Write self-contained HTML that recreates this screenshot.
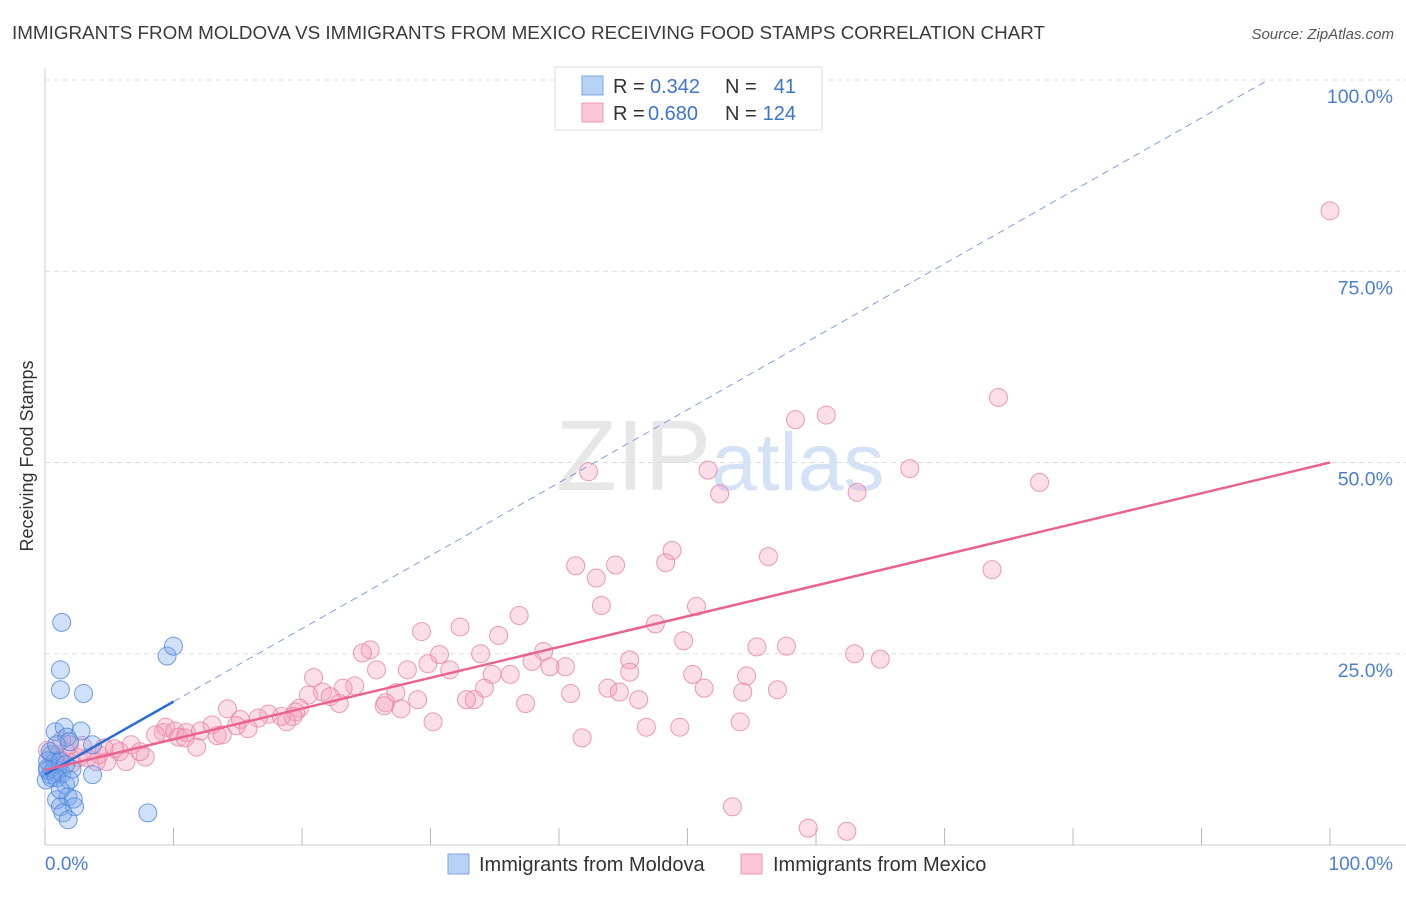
<!DOCTYPE html>
<html><head><meta charset="utf-8"><style>
body{margin:0;background:#fff;font-family:"Liberation Sans",sans-serif;}
svg text{font-family:"Liberation Sans",sans-serif;}
</style></head><body>
<svg id="chart" width="1406" height="892" xmlns="http://www.w3.org/2000/svg">
<text x="12" y="39" font-size="18" fill="#3a3a3a" textLength="1033" lengthAdjust="spacingAndGlyphs">IMMIGRANTS FROM MOLDOVA VS IMMIGRANTS FROM MEXICO RECEIVING FOOD STAMPS CORRELATION CHART</text>
<text x="1394" y="39" font-size="15" fill="#555" text-anchor="end" font-style="italic">Source: ZipAtlas.com</text>
<text x="720" y="490" font-size="100" fill="#d8d8d8" text-anchor="middle" font-family="Liberation Serif" opacity="0.6">ZIP<tspan fill="#b8cff0" font-family="Liberation Sans" font-size="82">atlas</tspan></text>
<g id="grid"></g>
<g id="axes"></g>
<g id="pts"></g>
<g id="lines"></g>
<text transform="translate(33,456) rotate(-90)" font-size="18" fill="#333" text-anchor="middle">Receiving Food Stamps</text>
<text x="45" y="870" font-size="19" fill="#4a7fd4">0.0%</text>
<text x="1393" y="870" font-size="19" fill="#4a7fd4" text-anchor="end">100.0%</text>
<g>
<rect x="555" y="67" width="267" height="63" fill="#fff" stroke="#ddd"/>
<rect x="582" y="76" width="21" height="19" fill="#b8d2f5" stroke="#7aa7e6"/>
<rect x="582" y="103" width="21" height="19" fill="#f9c6d6" stroke="#eb9ab4"/>
<text x="613" y="93" font-size="20" fill="#333">R = </text><text x="650" y="93" font-size="20" fill="#3d74d0">0.342</text>
<text x="725" y="93" font-size="20" fill="#333">N = </text><text x="796" y="93" font-size="20" fill="#3d74d0" text-anchor="end">41</text>
<text x="613" y="120" font-size="20" fill="#333">R = </text><text x="648" y="120" font-size="20" fill="#3d74d0">0.680</text>
<text x="725" y="120" font-size="20" fill="#333">N = </text><text x="796" y="120" font-size="20" fill="#3d74d0" text-anchor="end">124</text>
</g>
<g>
<rect x="448" y="854" width="21" height="20" fill="#b8d2f5" stroke="#7aa7e6"/>
<text x="479" y="871" font-size="20" fill="#333">Immigrants from Moldova</text>
<rect x="741" y="854" width="21" height="20" fill="#f9c6d6" stroke="#eb9ab4"/>
<text x="773" y="871" font-size="20" fill="#333">Immigrants from Mexico</text>
</g>
</svg>
<script>
const yTicks=[25,50,75,100];
const yTickLabels=["25.0%","50.0%","75.0%","100.0%"];
const xTicks=[0,10,20,30,40,50,60,70,80,90,100];
const moldovaX=[1.3,1.2,1.2,3.0,9.5,10.0,0.8,1.5,2.8,1.7,1.9,3.7,0.5,0.8,0.2,1.0,0.4,0.6,1.3,2.1,3.7,0.1,0.5,1.6,0.9,1.8,2.2,1.2,2.3,1.4,1.8,8.0,0.2,0.4,0.9,1.2,1.6,0.2,0.9,1.9,1.2];
const moldovaY=[29.1,22.9,20.3,19.8,24.7,26.0,14.8,15.4,14.9,14.1,13.5,13.1,11.8,10.9,10.1,9.7,9.2,9.6,9.3,9.9,9.2,8.5,8.8,7.9,5.9,6.3,6.0,5.0,5.0,4.2,3.3,4.2,11.0,12.2,13.1,10.9,10.5,9.8,8.8,8.5,7.2];
const mexicoX=[100.0,74.2,58.4,60.8,42.3,51.6,67.3,77.4,52.5,63.2,48.8,48.3,56.3,41.3,44.4,42.9,73.7,43.3,50.7,36.9,47.5,32.3,29.3,35.3,49.7,25.3,24.7,30.7,38.8,55.4,57.7,63.0,65.0,45.5,33.9,37.9,40.5,39.3,45.5,28.2,25.8,20.9,31.5,34.8,36.2,50.4,54.6,29.8,43.8,51.3,54.3,57.0,44.7,40.9,34.2,24.1,23.2,21.6,22.2,27.3,33.4,32.8,29.0,20.5,22.9,26.5,27.7,26.4,37.4,46.2,19.8,14.2,19.5,17.4,16.6,18.4,19.3,15.2,14.9,18.8,13.0,15.8,9.4,9.2,10.1,11.0,12.1,8.6,13.4,13.8,10.4,10.9,30.2,46.8,49.4,54.1,41.8,11.8,6.7,5.4,5.8,7.8,4.2,3.3,4.0,4.8,6.3,2.6,2.1,1.2,0.8,1.6,1.9,0.5,0.2,2.9,53.5,59.4,62.4,7.4,4.6,1.3];
const mexicoY=[82.9,58.5,55.6,56.2,48.8,49.0,49.2,47.4,45.9,46.1,38.5,36.9,37.7,36.5,36.6,34.9,36.0,31.3,31.2,30.0,28.9,28.5,27.9,27.4,26.7,25.5,25.1,24.9,25.3,25.9,26.0,25.0,24.3,24.2,25.0,24.0,23.3,23.3,22.6,22.9,22.9,21.9,22.9,22.3,22.3,22.3,22.1,23.7,20.5,20.5,20.0,20.3,20.0,19.8,20.5,20.8,20.5,20.0,19.4,19.9,19.0,19.0,19.0,19.6,18.5,18.6,17.8,18.2,18.5,19.0,17.9,17.8,17.4,17.1,16.6,16.8,16.8,16.4,15.6,16.1,15.7,15.2,15.4,14.7,14.9,14.7,14.9,14.4,14.3,14.4,14.1,14.0,16.1,15.4,15.4,16.1,14.0,12.8,13.1,12.6,12.2,11.5,11.8,11.4,10.9,10.9,10.9,11.4,10.7,11.1,11.6,12.2,13.1,10.1,12.4,13.0,5.0,2.2,1.8,12.2,12.7,13.7];
const moldovaTrend=[9.2,0.954];
const mexicoTrend=[9.8,0.402];
const NS="http://www.w3.org/2000/svg";
const X0=45,X1=1330,Y0=845,Y1=80;
const sx=v=>X0+(X1-X0)*v/100;
const sy=v=>Y0-(Y0-Y1)*v/100;
function mk(tag,attrs,parent){const e=document.createElementNS(NS,tag);for(const k in attrs)e.setAttribute(k,attrs[k]);parent.appendChild(e);return e;}
const grid=document.getElementById('grid'),axes=document.getElementById('axes'),pts=document.getElementById('pts'),lines=document.getElementById('lines');
yTicks.forEach((t,i)=>{
 const l=mk('line',{x1:X0,x2:1420,y1:sy(t),y2:sy(t),stroke:'#ddd','stroke-dasharray':'5,4'},grid);
 
 
 const tx=mk('text',{x:1393,y:sy(t)+23,'font-size':19.5,fill:'#4a7fd4','text-anchor':'end'},grid);
 tx.textContent=yTickLabels[i];
 
 
});
const ya=mk('line',{x1:X0,x2:X0,y1:68,y2:Y0,stroke:'#ccc'},axes);


const xa=mk('line',{x1:X0,x2:1420,y1:Y0,y2:Y0,stroke:'#ccc'},axes);


xTicks.forEach(t=>{
 const l=mk('line',{x1:sx(t),x2:sx(t),y1:Y0-17,y2:Y0,stroke:'#bbb'},axes);
 
 
});
mexicoX.forEach((v,i)=>{
 const c=mk('circle',{cx:sx(v),cy:sy(mexicoY[i]),r:9,fill:'rgba(244,160,188,0.35)',stroke:'rgba(232,130,164,0.8)','stroke-width':1},pts);
 
 
});
moldovaX.forEach((v,i)=>{
 const c=mk('circle',{cx:sx(v),cy:sy(moldovaY[i]),r:9,fill:'rgba(120,165,235,0.35)',stroke:'rgba(80,135,220,0.8)','stroke-width':1},pts);
 
 
});
const xEnd=(100-moldovaTrend[0])/moldovaTrend[1];
const bd=mk('line',{x1:sx(10),y1:sy(moldovaTrend[0]+10*moldovaTrend[1]),x2:sx(xEnd),y2:sy(100),stroke:'#7ea1dc','stroke-width':1,'stroke-dasharray':'7,5'},lines);


const bl=mk('line',{x1:sx(0),y1:sy(moldovaTrend[0]),x2:sx(10),y2:sy(moldovaTrend[0]+10*moldovaTrend[1]),stroke:'#2a6dd6','stroke-width':2.5},lines);


const pl=mk('line',{x1:sx(0),y1:sy(mexicoTrend[0]),x2:sx(100),y2:sy(mexicoTrend[0]+100*mexicoTrend[1]),stroke:'#e8638f','stroke-width':2.5},lines);


</script>
</body></html>
